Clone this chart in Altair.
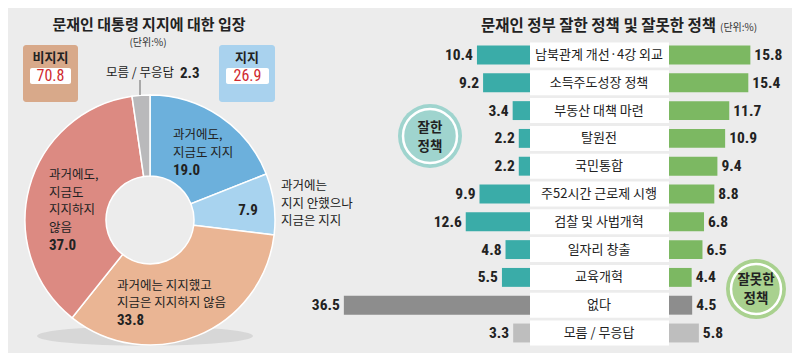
import altair as alt
import pandas as pd

# ---------------- data ----------------
left_title = "문재인 대통령 지지에 대한 입장"
right_title = "문재인 정부 잘한 정책 및 잘못한 정책"
unit_text = "(단위:%)"

donut_cats = ["과거에도, 지금도 지지", "과거에는 지지 안했으나 지금은 지지",
              "과거에는 지지했고 지금은 지지하지 않음", "과거에도, 지금도 지지하지 않음", "모름/무응답"]
donut_vals = [19.0, 7.9, 33.8, 37.0, 2.3]
donut_colors = ["#6cb0dc", "#a8d3ef", "#eab594", "#dc8a82", "#b9b9bb"]

group_names = ["비지지", "지지"]
group_vals = [70.8, 26.9]

policy_labels = ["남북관계 개선·4강 외교", "소득주도성장 정책", "부동산 대책 마련", "탈원전", "국민통합",
                 "주52시간 근로제 시행", "검찰 및 사법개혁", "일자리 창출", "교육개혁", "없다", "모름 / 무응답"]
good_vals = [10.4, 9.2, 3.4, 2.2, 2.2, 9.9, 12.6, 4.8, 5.5, 36.5, 3.3]
bad_vals = [15.8, 15.4, 11.7, 10.9, 9.4, 8.8, 6.8, 6.5, 4.4, 4.5, 5.8]
policy_kind = ["정책"] * 9 + ["없다", "모름"]
badge_labels = ["잘한\n정책", "잘못한\n정책"]

# ---------------- styles ----------------
KR = "Noto Sans CJK KR"
NUM = "Liberation Sans Narrow, Roboto Condensed, Liberation Sans, sans-serif"
DARK = "#222222"
BG = "#ececec"

df_donut = pd.DataFrame({"cat": donut_cats, "value": donut_vals, "idx": list(range(len(donut_vals)))})
df_pol = pd.DataFrame({"label": policy_labels, "good": good_vals, "bad": bad_vals, "kind": policy_kind})
one = pd.DataFrame({"a": [0]})


def txt(s, x, y, size=12, weight="normal", color=DARK, align="left", lh=17.5, font=KR):
    # y is the centre of the first line
    return alt.Chart(pd.DataFrame({"t": [s]})).mark_text(
        align=align, baseline="middle", fontSize=size, fontWeight=weight, color=color,
        font=font, lineBreak="\n", lineHeight=lh
    ).encode(text="t:N", x=alt.value(x), y=alt.value(y))


def box(x1, x2, y1, y2, color, r=3):
    return alt.Chart(one).mark_rect(color=color, cornerRadius=r).encode(
        x=alt.value(x1), x2=alt.value(x2), y=alt.value(y1), y2=alt.value(y2))


layers = []

# shadow under donut
layers.append(alt.Chart(one).mark_point(
    shape="M -1 0 A 1 0.09 0 1 0 1 0 A 1 0.09 0 1 0 -1 0 Z", filled=True,
    color="#d7d7d7", opacity=1, size=46656, strokeWidth=0
).encode(x=alt.value(137), y=alt.value(328)))

# donut
layers.append(alt.Chart(df_donut).mark_arc(innerRadius=44, outerRadius=125, stroke="white", strokeWidth=1.5).encode(
    theta=alt.Theta("value:Q", stack=True),
    order=alt.Order("idx:Q"),
    color=alt.Color("cat:N", scale=alt.Scale(domain=donut_cats, range=donut_colors), legend=None),
    x=alt.value(142), y=alt.value(212),
))

# titles
layers.append(txt(left_title, 141, 17, size=15, weight="bold", align="center"))
layers.append(txt(unit_text, 140, 35, size=10, color="#333", align="center"))
layers.append(txt(right_title, 708, 18, size=15.5, weight="bold", align="right"))
layers.append(txt(unit_text, 712, 20, size=10, color="#333"))

# group boxes
layers.append(box(15, 70, 37, 94, "#d8a98a"))
layers.append(box(22, 63, 60, 76, "white", 2))
layers.append(txt(group_names[0], 42.5, 50, size=13, weight="bold", align="center"))
layers.append(txt(f"{group_vals[0]:.1f}", 42.5, 68, size=16, color="#cf2a30", align="center", font=NUM))
layers.append(box(211, 267, 37, 94, "#a9d2ee"))
layers.append(box(218, 261, 60, 76, "white", 2))
layers.append(txt(group_names[1], 239, 50, size=13, weight="bold", align="center"))
layers.append(txt(f"{group_vals[1]:.1f}", 239.5, 68, size=16, color="#cf2a30", align="center", font=NUM))

# donut labels
layers.append(alt.Chart(one).mark_rule(color="#666", strokeWidth=1).encode(
    x=alt.value(132), y=alt.value(72), y2=alt.value(87)))
layers.append(txt("모름 / 무응답", 98, 65, size=12.5))
layers.append(txt(f"{donut_vals[4]:.1f}", 172, 65, size=15, weight="bold", font=NUM))
layers.append(txt("과거에도,\n지금도 지지", 165, 127, size=12.5, lh=17.5))
layers.append(txt(f"{donut_vals[0]:.1f}", 165, 162, size=15, weight="bold", font=NUM))
layers.append(txt(f"{donut_vals[1]:.1f}", 240, 202, size=15, weight="bold", align="center", font=NUM))
layers.append(txt("과거에는\n지지 안했으나\n지금은 지지", 273, 178, size=12.5, lh=17.5))
layers.append(txt("과거에는 지지했고\n지금은 지지하지 않음", 109, 277.5, size=12.5, lh=17.5))
layers.append(txt(f"{donut_vals[2]:.1f}", 109, 312, size=15, weight="bold", font=NUM))
layers.append(txt("과거에도,\n지금도\n지지하지\n않음", 41, 167, size=12.5, lh=17.7))
layers.append(txt(f"{donut_vals[3]:.1f}", 41, 237, size=15, weight="bold", font=NUM))

# policy bars
Y_RANGE = [33.1, 338.9]
sort_order = policy_labels


def yband(pi):
    return alt.Y("label:N", sort=sort_order, axis=None,
                 scale=alt.Scale(range=Y_RANGE, paddingInner=pi, paddingOuter=pi / 2))


xl = alt.Scale(domain=[0, 40], range=[522, 318], nice=False, zero=True)
xr = alt.Scale(domain=[0, 40], range=[661, 867], nice=False, zero=True)

layers.append(alt.Chart(df_pol).mark_rect(color="white").encode(
    y=yband(0.1), x=alt.value(522), x2=alt.value(661)))
layers.append(alt.Chart(df_pol).mark_bar().encode(
    y=yband(0.32), x=alt.X("good:Q", scale=xl, axis=None), x2=alt.datum(0),
    color=alt.Color("kind:N", scale=alt.Scale(domain=["정책", "없다", "모름"],
                                              range=["#3aaca8", "#8d8d8d", "#bebebe"]), legend=None)))
layers.append(alt.Chart(df_pol).mark_bar().encode(
    y=yband(0.32), x=alt.X("bad:Q", scale=xr, axis=None), x2=alt.datum(0),
    color=alt.Color("kind:N", scale=alt.Scale(domain=["정책", "없다", "모름"],
                                              range=["#7cb862", "#8d8d8d", "#bebebe"]), legend=None)))
layers.append(alt.Chart(df_pol).mark_text(font=KR, fontSize=13, color=DARK).encode(
    y=yband(0.1), x=alt.value(591), text="label:N"))
layers.append(alt.Chart(df_pol).mark_text(font=NUM, fontSize=15.5, fontWeight="bold", color=DARK,
                                          align="right", dx=-4).encode(
    y=yband(0.1), x=alt.X("good:Q", scale=xl, axis=None), text=alt.Text("good:Q", format=".1f")))
layers.append(alt.Chart(df_pol).mark_text(font=NUM, fontSize=15.5, fontWeight="bold", color=DARK,
                                          align="left", dx=4).encode(
    y=yband(0.1), x=alt.X("bad:Q", scale=xr, axis=None), text=alt.Text("bad:Q", format=".1f")))

# badges
layers.append(alt.Chart(one).mark_point(filled=True, shape="circle", size=4096, color="#9fd4ce", opacity=1,
                                        strokeWidth=0).encode(x=alt.value(422), y=alt.value(128)))
layers.append(alt.Chart(one).mark_point(filled=False, shape="circle", size=2916, color="white", opacity=1,
                                        strokeWidth=2.5).encode(x=alt.value(422), y=alt.value(128)))
layers.append(txt(badge_labels[0], 422, 120, size=13.5, weight="bold", align="center", lh=19))
layers.append(alt.Chart(one).mark_point(filled=True, shape="circle", size=3600, color="#a9d18f", opacity=1,
                                        strokeWidth=0).encode(x=alt.value(748), y=alt.value(281)))
layers.append(alt.Chart(one).mark_point(filled=False, shape="circle", size=2500, color="white", opacity=1,
                                        strokeWidth=2.5).encode(x=alt.value(748), y=alt.value(281)))
layers.append(txt(badge_labels[1], 748, 272, size=13.5, weight="bold", align="center", lh=19))

chart = alt.layer(*layers).resolve_scale(
    x="independent", y="independent", color="independent", theta="independent"
).properties(
    width=784, height=345, autosize=alt.AutoSizeParams(type="none"), padding=0, background=BG
).configure_view(strokeWidth=0)

chart.save("out.html", embed_options={"renderer": "svg", "actions": False})
